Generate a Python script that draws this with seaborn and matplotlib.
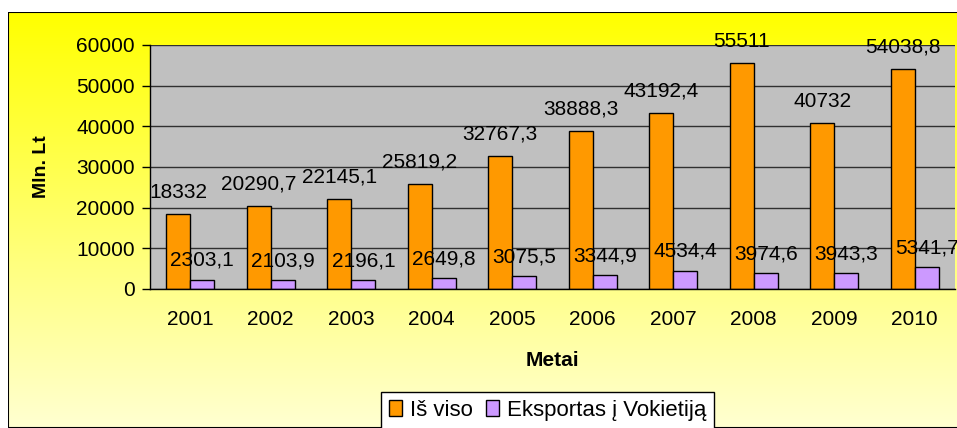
import numpy as np
import pandas as pd
import matplotlib
matplotlib.use("Agg")
import matplotlib.pyplot as plt
from matplotlib.patches import Rectangle, Patch
import seaborn as sns

# data
years = ["2001", "2002", "2003", "2004", "2005", "2006", "2007", "2008", "2009", "2010"]
total = [18332, 20290.7, 22145.1, 25819.2, 32767.3, 38888.3, 43192.4, 55511, 40732, 54038.8]
germany = [2303.1, 2103.9, 2196.1, 2649.8, 3075.5, 3344.9, 4534.4, 3974.6, 3943.3, 5341.7]
series_names = ["Iš viso", "Eksportas į Vokietiją"]
y_ticks = [0, 10000, 20000, 30000, 40000, 50000, 60000]

colors = ["#FF9900", "#CC99FF"]

df = pd.DataFrame({
    "Metai": years * 2,
    "value": total + germany,
    "series": [series_names[0]] * len(years) + [series_names[1]] * len(years),
})

sns.set_style("white")
plt.rcParams["font.family"] = ["Liberation Sans", "DejaVu Sans"]
for k in ["text.color", "axes.labelcolor", "xtick.color", "ytick.color"]:
    plt.rcParams[k] = "black"

W, H = 957, 428
fig = plt.figure(figsize=(W / 100, H / 100), dpi=100)
fig.patch.set_facecolor("white")

# yellow gradient chart area with black border
bg = fig.add_axes([8 / W, 0, 1, (H - 12) / H])
bg.set_zorder(-5)
grad = np.linspace(0, 1, 256).reshape(-1, 1)
top = np.array([1.0, 1.0, 0.0])
bot = np.array([1.0, 1.0, 0.82])
img = top + (bot - top) * grad[:, :, None]
bg.imshow(img, aspect="auto", extent=[0, 1, 0, 1], origin="upper")
bg.add_patch(Rectangle((0, 0), 1, 1, transform=bg.transAxes, fill=False,
                       edgecolor="black", linewidth=1.5))
bg.set_xlim(0, 1)
bg.set_ylim(0, 1)
bg.axis("off")

ax = fig.add_axes([150 / W, 1 - 289 / H, 805 / W, (289 - 45) / H])
ax.set_facecolor("#C0C0C0")

sns.barplot(data=df, x="Metai", y="value", hue="series", palette=colors,
            width=0.6, edgecolor="black", linewidth=1, saturation=1,
            legend=False, ax=ax)

ax.set_ylim(0, 60000)
ax.set_xlim(-0.5, len(years) - 0.5)
ax.set_yticks(y_ticks)
ax.set_yticklabels([str(t) for t in y_ticks], fontsize=15)
ax.yaxis.grid(True, color="#303030", linewidth=1)
ax.set_axisbelow(True)

ax.set_xticks(range(len(years)))
ax.set_xticklabels(years, fontsize=15)
ax.tick_params(axis="x", which="major", length=0, pad=15)
ax.set_xticks(np.arange(-0.5, len(years), 1), minor=True)
ax.tick_params(axis="x", which="minor", length=6, color="black", width=1, direction="out")
ax.tick_params(axis="y", length=6, color="black", width=1, direction="out", left=True, pad=5)

for s in ["top", "right"]:
    ax.spines[s].set_visible(False)
for s in ["left", "bottom"]:
    ax.spines[s].set_color("black")
    ax.spines[s].set_linewidth(1)

def fmt(v):
    return f"{v:g}".replace(".", ",")

ax.bar_label(ax.containers[0], labels=[fmt(v) for v in total], padding=9, fontsize=15)
ax.bar_label(ax.containers[1], labels=[fmt(v) for v in germany], padding=7, fontsize=15)

ax.set_xlabel("Metai", fontsize=15, fontweight="bold", labelpad=16)
ax.set_ylabel("Mln. Lt", fontsize=14, fontweight="bold", labelpad=19)

handles = [Patch(facecolor=c, edgecolor="black", linewidth=1) for c in colors]
leg = fig.legend(handles, series_names, loc="upper left",
                 bbox_to_anchor=(381 / W, 1 - 392 / H), ncol=2,
                 frameon=True, fancybox=False, framealpha=1,
                 prop={"size": 16},
                 handlelength=0.6, handleheight=0.7, handletextpad=0.35,
                 columnspacing=0.6, borderpad=0.35, borderaxespad=0)
leg.get_frame().set_edgecolor("black")
leg.get_frame().set_facecolor("white")
leg.get_frame().set_linewidth(1)

fig.savefig("out.png", dpi=100)
